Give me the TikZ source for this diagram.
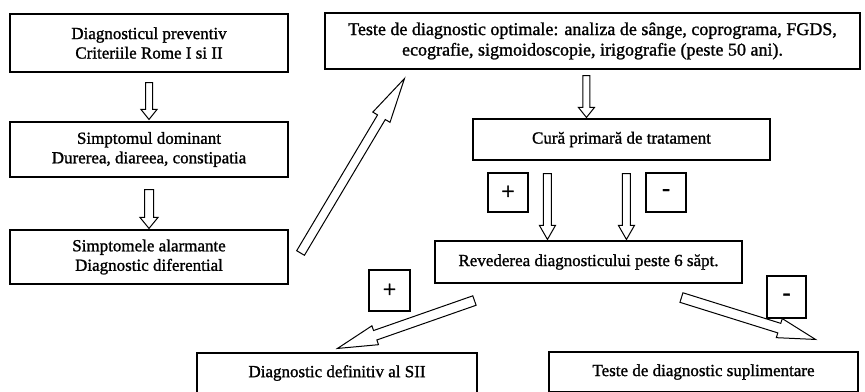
\documentclass[tikz,border=0pt]{standalone}
\usepackage{fontspec}
\setmainfont{Liberation Serif}[BoldFont={Liberation Serif}, BoldFeatures={FakeBold=1.2}]
\usetikzlibrary{calc}
\tikzset{
  box/.style={draw, line width=1.1pt, inner sep=0pt, align=center, font=\fontsize{17}{19.5}\selectfont\bfseries},
  bigbox/.style={box, font=\fontsize{18}{20.5}\selectfont\bfseries},
  signbox/.style={draw, line width=1.1pt, inner sep=0pt, font=\fontsize{24}{24}\selectfont\bfseries},
  harrow/.style={draw, line width=1pt, fill=white, line join=miter},
}
\newcommand\hollowarrow[5]{%
  \path ($(#2)!#5!(#1)$) coordinate (hb);
  \draw[harrow] ($(#1)!#3!90:(#2)$) -- ($(hb)!#3!90:(#2)$) -- ($(hb)!#4!90:(#2)$) -- (#2)
    -- ($(hb)!#4!-90:(#2)$) -- ($(hb)!#3!-90:(#2)$) -- ($(#1)!#3!-90:(#2)$) -- cycle;}
\begin{document}
\begin{tikzpicture}[x=1pt,y=-1pt]
\clip (0,0) rectangle (865,391);
\fill[white] (0,0) rectangle (865,391);
% boxes
\node[box, minimum width=278pt, minimum height=58pt] (b1) at (149,43) {Diagnosticul preventiv\\Criteriile Rome I si II};
\node[box, minimum width=278pt, minimum height=55pt] (b2) at (149,149.5) {Simptomul dominant\\Durerea, diareea, constipatia};
\node[box, minimum width=278pt, minimum height=54pt] (b3) at (149,257) {Simptomele alarmante\\Diagnostic diferential};
\node[bigbox, minimum width=535pt, minimum height=56pt] (b4) at (592.5,41) {Teste de diagnostic optimale: analiza de sânge, coprograma, FGDS,\\ecografie, sigmoidoscopie, irigografie (peste 50 ani).};
\node[box, minimum width=297pt, minimum height=41pt] (b5) at (621.5,139.5) {Cură primară de tratament};
\node[box, minimum width=307pt, minimum height=42pt] (b6) at (588.5,262) {Revederea diagnosticului peste 6 săpt.};
\node[box, minimum width=280pt, minimum height=40pt] (b7) at (337,373) {Diagnostic definitiv al SII};
\node[box, minimum width=309pt, minimum height=40pt] (b8) at (703.5,372) {Teste de diagnostic suplimentare};
% signs
\node[signbox, minimum width=40pt, minimum height=39pt] (p1) at (508,192.5) {+};
\node[signbox, minimum width=40pt, minimum height=39pt] (m1) at (666,192.5) {-};
\node[signbox, minimum width=41pt, minimum height=41pt] (p2) at (389.5,290.5) {+};
\node[signbox, minimum width=39pt, minimum height=42pt] (m2) at (786.5,297) {-};
% arrow end points
\coordinate (a1s) at ($(b1.south)+(0,10)$);
\coordinate (a1e) at ($(b2.north)+(0,-2)$);
\coordinate (a2s) at ($(b2.south)+(0,12)$);
\coordinate (a2e) at ($(b3.north)+(0,-1)$);
\coordinate (a3s) at ($(b3.east)+(12,-4)$);
\coordinate (a3e) at ($(b4.south west)+(80,9)$);
\coordinate (a4s) at ($(b4.south west)+(262,6)$);
\coordinate (a4e) at ($(b5.north west)+(114,-1)$);
\coordinate (a5s) at ($(b5.south west)+(75,13)$);
\coordinate (a5e) at ($(b6.north west)+(113,-1)$);
\coordinate (a6s) at ($(b5.south west)+(154,13)$);
\coordinate (a6e) at ($(b6.north west)+(192,-1)$);
\coordinate (a7s) at ($(b6.south west)+(40,17)$);
\coordinate (a7e) at ($(b7.north west)+(141,-4)$);
\coordinate (a8s) at ($(b6.south west)+(247,14)$);
\coordinate (a8e) at ($(b8.north east)+(-43,-12)$);
% arrows
\hollowarrow{a1s}{a1e}{3.5pt}{8pt}{10pt}
\hollowarrow{a2s}{a2e}{4.5pt}{9pt}{11pt}
\hollowarrow{a3s}{a3e}{4.5pt}{10pt}{45pt}
\hollowarrow{a4s}{a4e}{3.5pt}{8pt}{10pt}
\hollowarrow{a5s}{a5e}{4pt}{8pt}{14pt}
\hollowarrow{a6s}{a6e}{4pt}{8pt}{14pt}
\hollowarrow{a7s}{a7e}{5pt}{10pt}{40pt}
\hollowarrow{a8s}{a8e}{5pt}{10pt}{38pt}
\end{tikzpicture}
\end{document}
